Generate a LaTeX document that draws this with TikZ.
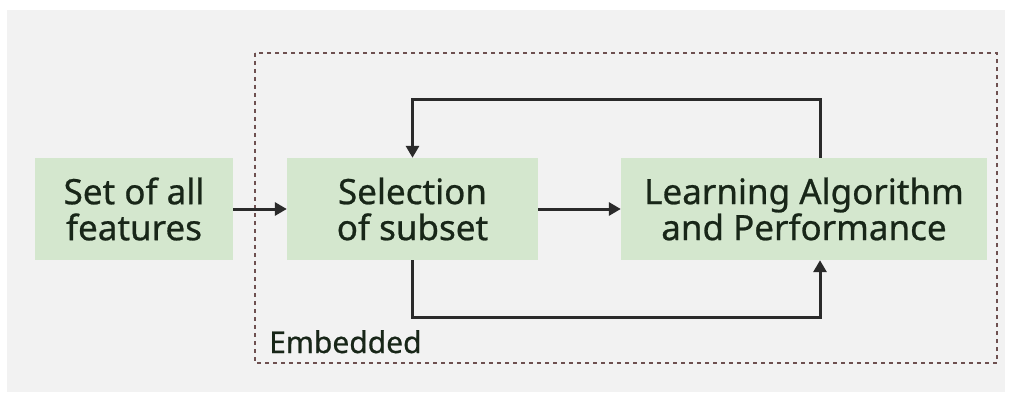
\documentclass[tikz,border=0pt]{standalone}
\usepackage{fontspec}
\setmainfont[FakeBold=0.7]{Noto Sans}
\usetikzlibrary{arrows.meta}
\definecolor{bgc}{HTML}{F2F2F2}
\definecolor{boxc}{HTML}{D4E7CE}
\definecolor{txtc}{HTML}{182618}
\definecolor{linec}{HTML}{2A2A2A}
\definecolor{dashc}{HTML}{6E5050}
\begin{document}
\begin{tikzpicture}[x=1pt,y=-1pt,
  box/.style={fill=boxc, draw=none, inner sep=0pt, align=center, text=txtc,
    font=\fontsize{35}{36}\selectfont\bfseries},
  conn/.style={draw=linec, line width=3pt, -{Triangle[length=12pt,width=13pt]}},
  frame/.style={draw=dashc, line width=1.5pt, dash pattern=on 4pt off 4pt}]
\useasboundingbox (0,0) rectangle (1012,401);
\fill[white] (0,0) rectangle (1012,401);
\fill[bgc] (7,10) rectangle (1005,392);
\node[box, minimum width=198pt, minimum height=102pt] (all) at (134,209) {Set of all\\features};
\node[box, minimum width=251pt, minimum height=102pt] (sel) at (412.5,209) {Selection\\of subset};
\node[box, minimum width=366pt, minimum height=102pt] (learn) at (804,209) {Learning Algorithm\\and Performance};
\draw[frame] (255,53) rectangle (997,363);
\node[anchor=base west, inner sep=0pt, text=txtc, font=\fontsize{30}{30}\selectfont\bfseries] (emb) at (269,353) {Embedded};
\draw[conn] (all.east) -- (sel.west);
\draw[conn] (sel.east) -- (learn.west);
\coordinate (t1) at (820,100);
\coordinate (t2) at (412.5,100);
\draw[conn] (learn.north -| t1) -- (t1) -- (t2) -- (sel.north);
\coordinate (b1) at (412.5,317);
\coordinate (b2) at (820,317);
\draw[conn] (sel.south) -- (b1) -- (b2) -- (learn.south -| b2);
\end{tikzpicture}
\end{document}
